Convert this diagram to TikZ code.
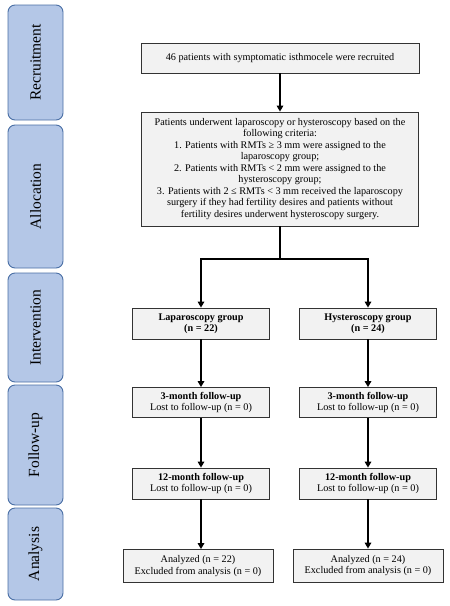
\documentclass[tikz,border=0pt]{standalone}
\usepackage{fontspec}
\setmainfont{Liberation Serif}
\usetikzlibrary{arrows.meta}
\definecolor{sidefill}{HTML}{B4C7E7}
\definecolor{sidedraw}{HTML}{4A6FA5}
\definecolor{boxfill}{HTML}{F2F2F2}
\tikzset{
  sidebox/.style={draw=sidedraw, fill=sidefill, line width=0.9pt, rounded corners=7pt, minimum width=55pt, inner sep=0pt},
  sidetext/.style={rotate=90, font=\fontsize{15.5}{17}\selectfont},
  mainbox/.style={draw=black!80, fill=boxfill, line width=0.8pt, inner sep=1pt, align=center, font=\fontsize{10.2}{11.5}\selectfont},
  conn/.style={line width=2pt, -{Triangle[length=6pt,width=6.5pt]}},
  plainconn/.style={line width=2pt},
}
\begin{document}
\begin{tikzpicture}[x=1pt,y=-1pt]
\useasboundingbox (0,0) rectangle (450,606);
% side stage labels
\node[sidebox, minimum height=115pt] (s1) at (35.5,62.5) {};
\node[sidetext] (t1) at (s1.center) {Recruitment};
\node[sidebox, minimum height=143pt] (s2) at (35.5,196.5) {};
\node[sidetext] (t2) at (s2.center) {Allocation};
\node[sidebox, minimum height=109pt] (s3) at (35.5,327.5) {};
\node[sidetext] (t3) at (s3.center) {Intervention};
\node[sidebox, minimum height=120pt] (s4) at (35.5,445) {};
\node[sidetext] (t4) at (s4.center) {Follow-up};
\node[sidebox, minimum height=92pt] (s5) at (35.5,554) {};
\node[sidetext] (t5) at (s5.center) {Analysis};
% main boxes
\node[mainbox, minimum width=278pt, minimum height=30pt] (rec) at (280,58) {46 patients with symptomatic isthmocele were recruited};
\node[mainbox, minimum width=277pt, minimum height=114pt] (alloc) at (280,169) {Patients underwent laparoscopy or hysteroscopy based on the\\following criteria:\\1. Patients with RMTs ≥ 3 mm were assigned to the\\laparoscopy group;\\2. Patients with RMTs < 2 mm were assigned to the\\hysteroscopy group;\\3. Patients with 2 ≤ RMTs < 3 mm received the laparoscopy\\surgery if they had fertility desires and patients without\\fertility desires underwent hysteroscopy surgery.};
\coordinate (split) at (280,259);
\node[mainbox, minimum width=137pt, minimum height=31pt] (lap) at (201,323.5) {\textbf{Laparoscopy group}\\\textbf{(n = 22)}};
\node[mainbox, minimum width=137pt, minimum height=31pt] (hys) at (368,323.5) {\textbf{Hysteroscopy group}\\\textbf{(n = 24)}};
\node[mainbox, minimum width=137pt, minimum height=30pt] (l3) at (201,402.5) {\textbf{3-month follow-up}\\Lost to follow-up (n = 0)};
\node[mainbox, minimum width=137pt, minimum height=30pt] (h3) at (368,402.5) {\textbf{3-month follow-up}\\Lost to follow-up (n = 0)};
\node[mainbox, minimum width=137pt, minimum height=31pt] (l12) at (201,483.5) {\textbf{12-month follow-up}\\Lost to follow-up (n = 0)};
\node[mainbox, minimum width=137pt, minimum height=31pt] (h12) at (368,483.5) {\textbf{12-month follow-up}\\Lost to follow-up (n = 0)};
\node[mainbox, minimum width=150pt, minimum height=33pt] (la) at (198,566) {Analyzed (n = 22)\\Excluded from analysis (n = 0)};
\node[mainbox, minimum width=150pt, minimum height=33pt] (ha) at (368,565.5) {Analyzed (n = 24)\\Excluded from analysis (n = 0)};
% connectors
\draw[conn] (rec) -- (alloc);
\draw[plainconn] (alloc.south) -- (split);
\draw[conn] (split) -| (lap.north);
\draw[conn] (split) -| (hys.north);
\draw[conn] (lap) -- (l3);
\draw[conn] (hys) -- (h3);
\draw[conn] (l3) -- (l12);
\draw[conn] (h3) -- (h12);
\draw[conn] (l12.south) -- (l12.south |- la.north);
\draw[conn] (h12.south) -- (h12.south |- ha.north);
\end{tikzpicture}
\end{document}
